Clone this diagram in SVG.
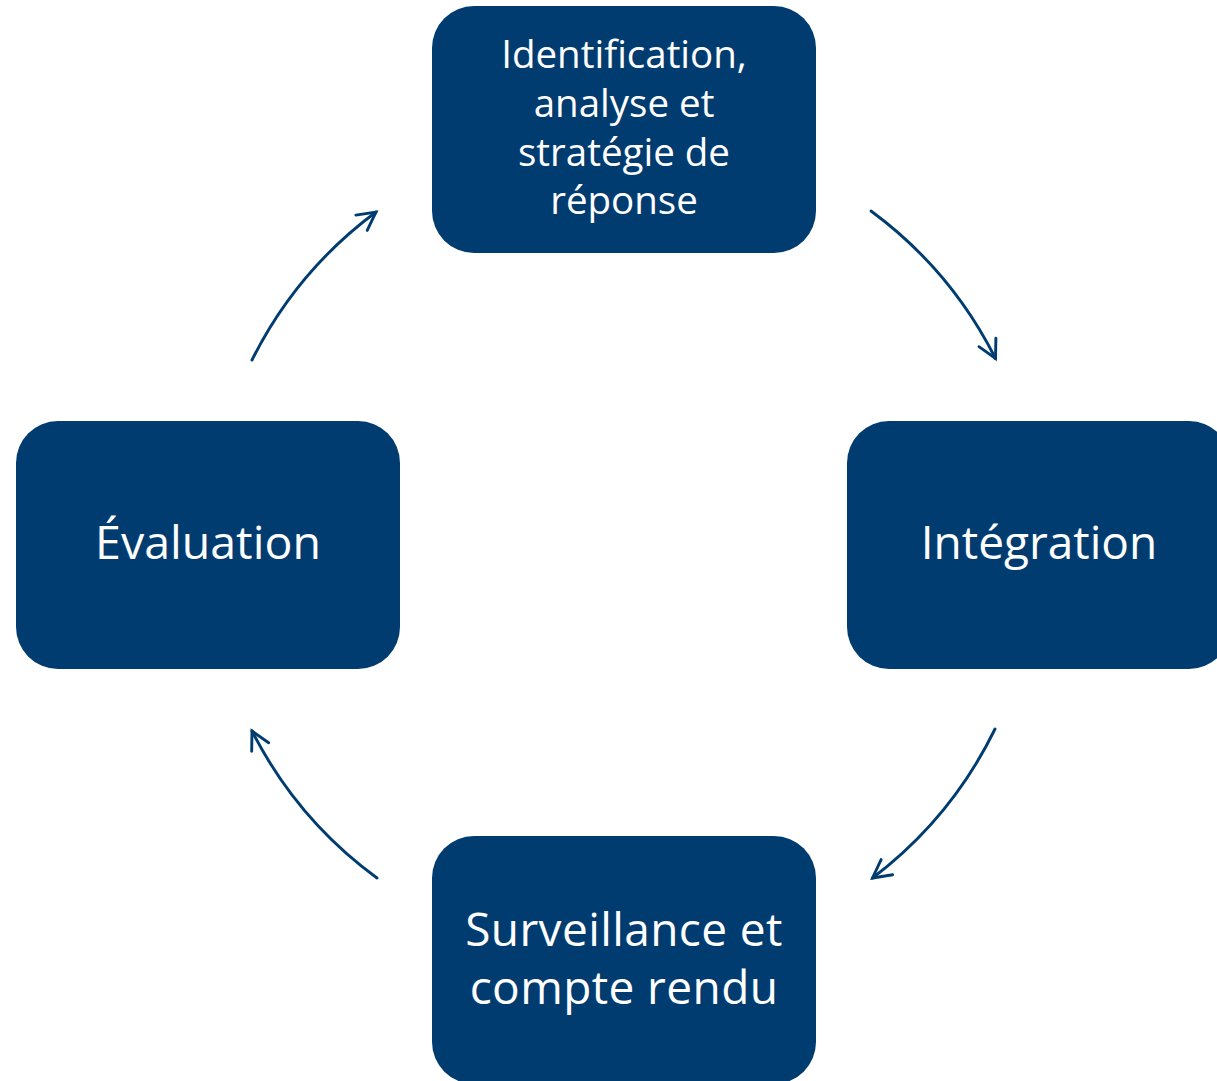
<svg xmlns="http://www.w3.org/2000/svg" width="1217" height="1081" viewBox="0 0 1217 1081">
<style>
.box{fill:#013C71}
.lbl{fill:#ffffff;font-family:"Open Sans","Noto Sans","Liberation Sans",sans-serif;text-anchor:middle}
.arc{fill:none;stroke:#013C71;stroke-width:2.9;stroke-linecap:round}
</style>
<defs>
<marker id="ah" markerUnits="userSpaceOnUse" markerWidth="40" markerHeight="40" viewBox="-25 -20 40 40" refX="0" refY="0" orient="auto">
<path d="M -18 -9.5 L 0 0 L -18 9.5" fill="none" stroke="#013C71" stroke-width="2.9" stroke-linecap="round" stroke-linejoin="miter"/>
</marker>
</defs>
<rect width="1217" height="1081" fill="#ffffff"/>
<g id="connectors">
<path class="arc" d="M 871 211 A 415 415 0 0 1 995.5 358.5" marker-end="url(#ah)"/>
<path class="arc" d="M 995 729 A 415 415 0 0 1 872.5 878" marker-end="url(#ah)"/>
<path class="arc" d="M 377 878 A 415 415 0 0 1 252 731" marker-end="url(#ah)"/>
<path class="arc" d="M 252 360 A 415 415 0 0 1 376 212" marker-end="url(#ah)"/>
</g>
<g id="node-identification">
<rect class="box" x="432" y="6" width="384" height="247" rx="42"/>
<text class="lbl" font-size="38.5"><tspan x="624" y="68">Identification,</tspan><tspan x="624" y="117">analyse et</tspan><tspan x="624" y="166">stratégie de</tspan><tspan x="624" y="214">réponse</tspan></text>
</g>
<g id="node-integration">
<rect class="box" x="847" y="421" width="384" height="248" rx="42"/>
<text class="lbl" font-size="46" x="1039" y="559">Intégration</text>
</g>
<g id="node-surveillance">
<rect class="box" x="432" y="836" width="384" height="248" rx="42"/>
<text class="lbl" font-size="46" letter-spacing="0.4"><tspan x="624" y="946">Surveillance et</tspan><tspan x="624" y="1004">compte rendu</tspan></text>
</g>
<g id="node-evaluation">
<rect class="box" x="16" y="421" width="384" height="248" rx="42"/>
<text class="lbl" font-size="46.5" x="208" y="559">Évaluation</text>
</g>
</svg>
